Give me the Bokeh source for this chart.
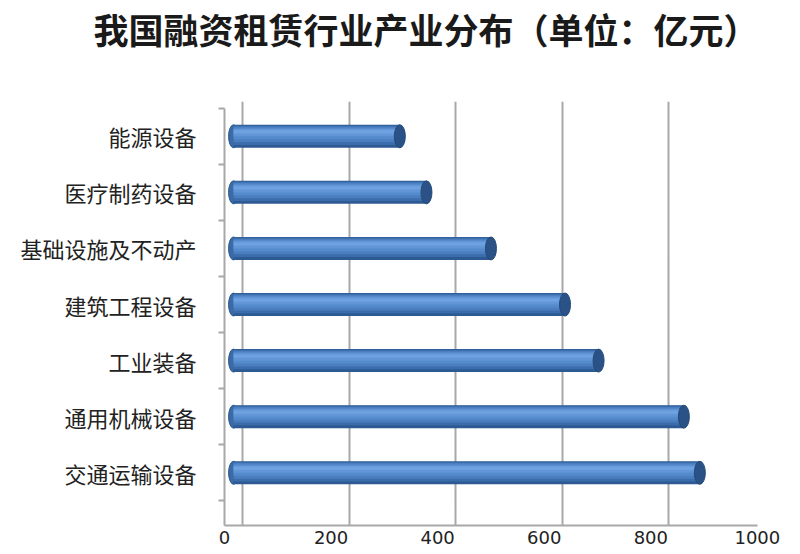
from bokeh.plotting import figure
from bokeh.models import (Range1d, FixedTicker, LinearAxis, Grid, ColumnDataSource, Title)
from bokeh.transform import dodge
from bokeh.embed import file_html
from bokeh.resources import INLINE

# ---- data ----
title = "我国融资租赁行业产业分布（单位：亿元）"
categories = ["交通运输设备", "通用机械设备", "工业装备", "建筑工程设备",
              "基础设施及不动产", "医疗制药设备", "能源设备"]   # bottom -> top
values = [875, 845, 685, 622, 483, 362, 312]
x_ticks = [0, 200, 400, 600, 800, 1000]

ypos = list(range(len(categories)))
src = ColumnDataSource(dict(y=ypos, v=values, zero=[0] * len(values)))

W, H = 792, 552
BL, BT, BB = 224, 100, 27
p = figure(width=W, height=H, output_backend="svg", toolbar_location=None,
           x_range=Range1d(-17, 1017), y_range=Range1d(-0.94, 6.62),
           min_border_left=BL, min_border_right=17, min_border_top=BT,
           min_border_bottom=BB, x_axis_location=None, y_axis_location=None)
p.outline_line_color = None
p.background_fill_color = "white"
p.xgrid.visible = False
p.ygrid.visible = False

# main title (outermost) + spacer between title and plot
p.title.text = title
p.title.text_font = "Noto Sans CJK SC"
p.title.text_font_size = "35px"
p.title.text_font_style = "bold"
p.title.text_color = "#1a1a1a"
p.title.align = "left"
p.title.offset = -131
p.title.standoff = 0
p.add_layout(Title(text=" ", text_font_size="10px", standoff=35), "above")

# back wall grid (shifted range) and front axis range
p.extra_x_ranges = {"back": Range1d(-34, 1000), "front": Range1d(0, 1034)}
grid = Grid(dimension=0, ticker=FixedTicker(ticks=x_ticks), x_range_name="back",
            grid_line_color="#a8a8a8", grid_line_width=2)
p.add_layout(grid)

xaxis = LinearAxis(x_range_name="front", ticker=FixedTicker(ticks=x_ticks),
                   bounds=(0, 1000))
xaxis.axis_line_color = "#a8a8a8"
xaxis.axis_line_width = 2
xaxis.major_tick_out = 0
xaxis.major_tick_in = 0
xaxis.minor_tick_out = 0
xaxis.major_label_standoff = 5
xaxis.major_label_text_font = "DejaVu Sans"
xaxis.major_label_text_font_size = "18px"
xaxis.major_label_text_color = "#222222"
p.add_layout(xaxis, "below")

yaxis = LinearAxis(ticker=FixedTicker(ticks=ypos, minor_ticks=[i - 0.5 for i in ypos] + [6.5]),
                   bounds=(-0.94, 6.5))
yaxis.major_label_overrides = {i: c for i, c in zip(ypos, categories)}
yaxis.axis_line_color = "#a8a8a8"
yaxis.axis_line_width = 2
yaxis.major_tick_out = 0
yaxis.major_tick_in = 0
yaxis.minor_tick_out = 6
yaxis.minor_tick_in = 0
yaxis.minor_tick_line_color = "#a8a8a8"
yaxis.minor_tick_line_width = 2
yaxis.major_label_standoff = 22
yaxis.major_label_text_font = "Noto Sans CJK SC"
yaxis.major_label_text_font_size = "22px"
yaxis.major_label_text_color = "#222222"
p.add_layout(yaxis, "left")

# cylinder bars (layered shading)
bh = 0.41
p.ellipse(x="zero", y="y", width=10, width_units="screen", height=bh, source=src,
          fill_color="#3a6aa8", line_color="#2c578c", line_width=1)
p.hbar(y="y", left=0, right="v", height=bh, source=src,
       fill_color="#2d5a93", line_color=None)
shades = [(0.02, 0.85, "#3b6cab"), (0.035, 0.68, "#4a7ebf"),
          (0.05, 0.5, "#558acc"), (0.065, 0.32, "#6095d6"), (0.08, 0.15, "#6ea1e0")]
for dy, frac, col in shades:
    p.hbar(y=dodge("y", dy, range=p.y_range), left=0, right="v", height=bh * frac,
           source=src, fill_color=col, line_color=None)
p.ellipse(x="v", y="y", width=11, width_units="screen", height=bh, source=src,
          fill_color="#2a5286", line_color="#244a7a", line_width=1)

open("out.html", "w").write(file_html(p, INLINE))
